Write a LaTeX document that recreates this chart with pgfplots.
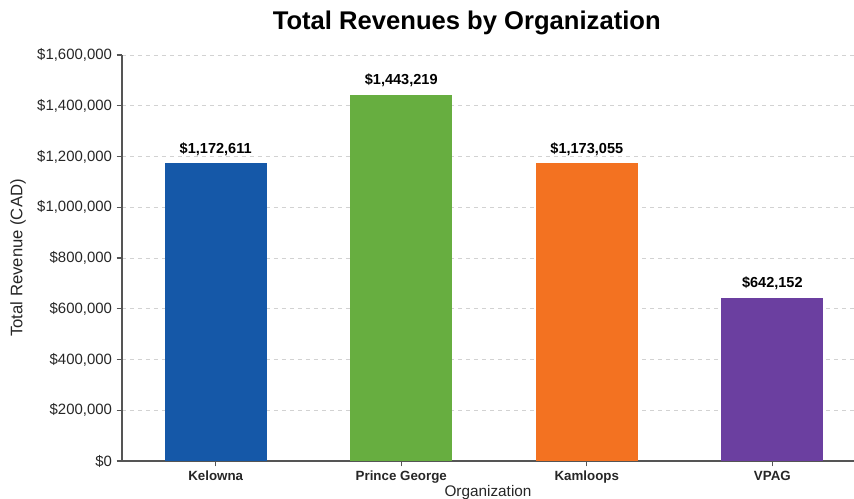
\documentclass[border=0pt]{standalone}
\usepackage{pgfplots}
\pgfplotsset{compat=1.18}
\usepackage{fontspec}
\setmainfont{Liberation Sans}
\definecolor{cblue}{HTML}{1558A8}
\definecolor{cgreen}{HTML}{67AE40}
\definecolor{corange}{HTML}{F37221}
\definecolor{cpurple}{HTML}{6B3FA0}
\definecolor{axgray}{HTML}{555555}
\begin{document}
\begin{tikzpicture}
\begin{axis}[
  scale only axis, width=549pt, height=304.5pt,
  xmin=-0.505, xmax=3.44, ymin=0, ymax=1600000,
  axis lines=left,
  axis line style={-, draw=axgray, line width=0.8pt},
  tick align=outside, major tick length=4pt,
  tick style={draw=axgray, line width=0.8pt},
  xtick={0,1,2,3},
  xticklabels={Kelowna,Prince George,Kamloops,VPAG},
  xticklabel style={font=\bfseries\fontsize{10}{12}\selectfont, text=black!85},
  scaled y ticks=false,
  ytick={0,200000,400000,600000,800000,1000000,1200000,1400000,1600000},
  yticklabels={\$0,{\$200,000},{\$400,000},{\$600,000},{\$800,000},{\$1,000,000},{\$1,200,000},{\$1,400,000},{\$1,600,000}},
  yticklabel style={font=\fontsize{11.2}{13}\selectfont, text=black!85},
  ymajorgrids,
  grid style={dashed, draw=gray!35, line width=0.5pt},
  xlabel={Organization},
  xlabel style={at={(axis description cs:0.5,-0.077)}, anchor=center, font=\fontsize{11.5}{13}\selectfont, text=black!85},
  ylabel={Total Revenue (CAD)},
  ylabel style={at={(axis description cs:-0.142,0.5)}, anchor=center, font=\fontsize{12.5}{14}\selectfont, text=black!85},
  point meta=explicit symbolic,
  nodes near coords,
  every node near coord/.append style={font=\bfseries\fontsize{10.9}{13}\selectfont, text=black, yshift=2.5pt},
  clip=false,
]
\coordinate (O) at (rel axis cs:0,0);
\node[anchor=center, font=\bfseries\fontsize{19.2}{22}\selectfont] at (rel axis cs:0.471,1.078) {Total Revenues by Organization};
\addplot[ybar, bar width=0.55, bar shift=0pt, fill=cblue, draw=none] coordinates {(0,1172611) [\$1,172,611]};
\addplot[ybar, bar width=0.55, bar shift=0pt, fill=cgreen, draw=none] coordinates {(1,1443219) [\$1,443,219]};
\addplot[ybar, bar width=0.55, bar shift=0pt, fill=corange, draw=none] coordinates {(2,1173055) [\$1,173,055]};
\addplot[ybar, bar width=0.55, bar shift=0pt, fill=cpurple, draw=none] coordinates {(3,642152) [\$642,152]};
\end{axis}
\pgfresetboundingbox
\path (O) ++(-91.5pt,-28.5pt) rectangle ++(640.5pt,374.25pt);
\end{tikzpicture}
\end{document}
